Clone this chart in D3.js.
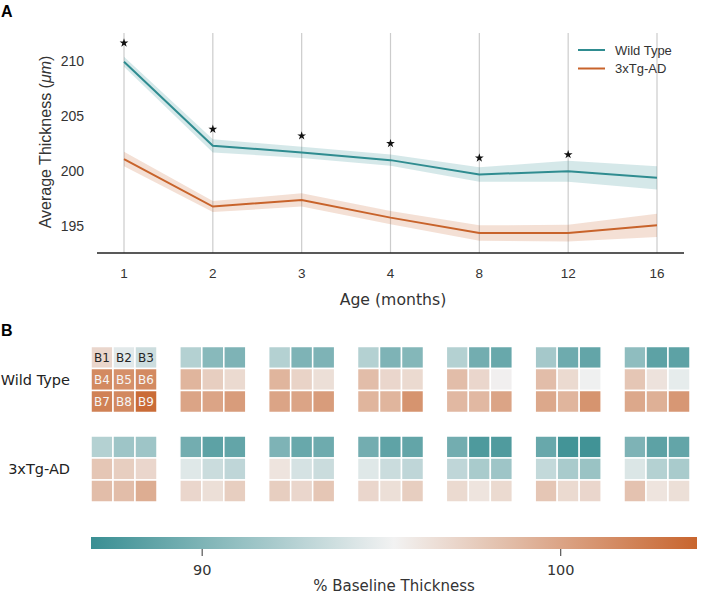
<!DOCTYPE html>
<html>
<head>
<meta charset="utf-8">
<script src="https://cdn.jsdelivr.net/npm/d3@7"></script>
<style>
  body { margin: 0; background: #fff; }
  svg { display: block; }
</style>
</head>
<body>
<div id="chart"></div>
<script>

// DATA
let months = ["1", "2", "3", "4", "8", "12", "16"];

let wtMean = [209.9, 202.3, 201.7, 201.0, 199.7, 200.0, 199.4];
let wtErr  = [0.45, 0.6, 0.5, 0.5, 0.65, 0.95, 1.05];
let tgMean = [201.1, 196.8, 197.4, 195.8, 194.4, 194.4, 195.1];
let tgErr  = [0.65, 0.5, 0.6, 0.6, 0.7, 0.75, 1.05];

// significance stars (month, y value)
let starMonths = ["1", "2", "3", "4", "8", "12"];
let starValues = [211.6, 203.8, 203.2, 202.5, 201.2, 201.5];

let yTicks = [195, 200, 205, 210];

let groups = ["Wild Type", "3xTg-AD"];
let regions = ["B1", "B2", "B3", "B4", "B5", "B6", "B7", "B8", "B9"];

// % baseline thickness, per month, regions B1..B9
let heatWT = [
  [97.0, 94.6, 93.6, 101.6, 101.2, 101.6, 102.1, 101.7, 103.4],
  [92.5, 90.5, 90.0, 99.0, 97.5, 96.8, 100.0, 100.0, 100.5],
  [92.5, 90.0, 90.0, 99.0, 97.2, 96.5, 100.0, 100.0, 100.5],
  [92.5, 90.0, 90.3, 98.5, 97.0, 96.8, 99.0, 99.0, 101.0],
  [92.5, 89.5, 89.0, 98.5, 97.0, 95.5, 98.8, 98.8, 100.0],
  [91.8, 89.3, 88.8, 98.5, 96.8, 95.2, 99.8, 99.0, 101.0],
  [90.8, 88.5, 88.5, 98.0, 96.3, 94.8, 99.8, 99.3, 100.8]
];
let heatTG = [
  [92.5, 91.5, 91.5, 98.0, 97.5, 97.0, 98.5, 98.5, 99.5],
  [89.5, 88.5, 88.8, 94.5, 93.5, 93.0, 97.0, 96.5, 97.5],
  [90.0, 89.0, 89.3, 96.2, 94.0, 93.5, 97.5, 97.0, 98.0],
  [89.5, 88.6, 88.8, 94.5, 93.5, 93.0, 97.0, 96.5, 97.5],
  [89.5, 87.8, 87.9, 93.0, 92.0, 91.5, 96.8, 96.2, 96.8],
  [89.0, 87.3, 87.2, 93.2, 92.0, 91.3, 98.0, 96.8, 97.0],
  [90.0, 88.5, 88.8, 94.3, 92.5, 92.0, 98.2, 96.2, 96.5]
];

let cbarMin = 86.9, cbarMax = 103.8;
let cbarTicks = [90, 100];

// COLOURS
let teal = "#2f8c90", orange = "#c8632b";
let color = d3.scaleLinear()
    .domain([cbarMin, (cbarMin + cbarMax) / 2, cbarMax])
    .range(["#3a8f93", "#f2f2f2", "#c8652e"])
    .interpolate(d3.interpolateRgb);

let svg = d3.select("#chart").append("svg")
    .attr("width", 708)
    .attr("height", 595);

let sansA = "'Liberation Sans', Arial, sans-serif";
let sansD = "'DejaVu Sans', sans-serif";

// PANEL A
let x = d3.scalePoint().domain(months).range([124, 657]);
let y = d3.scaleLinear().domain([192.6, 212.5]).range([253, 33]);

svg.append("text").attr("x", 1).attr("y", 17)
    .attr("font-family", sansA).attr("font-weight", "bold").attr("font-size", 16)
    .text("A");

// vertical grid
svg.selectAll(".grid").data(months).enter().append("line")
    .attr("x1", d => x(d)).attr("x2", d => x(d))
    .attr("y1", y(212.5)).attr("y2", y(192.6))
    .attr("stroke", "#cccccc").attr("stroke-width", 1.2);

// bottom spine
svg.append("line")
    .attr("x1", 97).attr("x2", 684)
    .attr("y1", y(192.6)).attr("y2", y(192.6))
    .attr("stroke", "#222").attr("stroke-width", 1.3);

// y tick labels
svg.selectAll(".ytick").data(yTicks).enter().append("text")
    .attr("x", 84).attr("y", d => y(d)).attr("dy", "0.35em")
    .attr("text-anchor", "end")
    .attr("font-family", sansA).attr("font-size", 14).attr("fill", "#333")
    .text(d => d);

// x tick labels
svg.selectAll(".xtick").data(months).enter().append("text")
    .attr("x", d => x(d)).attr("y", 278)
    .attr("text-anchor", "middle")
    .attr("font-family", sansA).attr("font-size", 13.5).attr("fill", "#333")
    .text(d => d);

svg.append("text").attr("x", 393).attr("y", 305)
    .attr("text-anchor", "middle")
    .attr("font-family", sansD).attr("font-size", 15.7).attr("fill", "#333")
    .text("Age (months)");

let yl = svg.append("text")
    .attr("transform", "translate(51,142) rotate(-90)")
    .attr("text-anchor", "middle")
    .attr("font-family", sansA).attr("font-size", 16).attr("fill", "#333");
yl.append("tspan").text("Average Thickness (");
yl.append("tspan").attr("font-style", "italic").text("μm");
yl.append("tspan").text(")");

let series = [
  {mean: wtMean, err: wtErr, col: teal},
  {mean: tgMean, err: tgErr, col: orange}
];

let area = d3.area()
    .x((d, i) => x(months[i]))
    .y0(d => y(d.m - d.e))
    .y1(d => y(d.m + d.e));
let line = d3.line()
    .x((d, i) => x(months[i]))
    .y(d => y(d.m));

series.forEach(s => {
  let pts = s.mean.map((m, i) => ({m: m, e: s.err[i]}));
  svg.append("path").datum(pts)
      .attr("d", area)
      .attr("fill", s.col).attr("fill-opacity", 0.2);
  svg.append("path").datum(pts)
      .attr("d", line)
      .attr("fill", "none").attr("stroke", s.col).attr("stroke-width", 2);
});

// stars
svg.selectAll(".star").data(starMonths).enter().append("path")
    .attr("d", d3.symbol(d3.symbolStar).size(24))
    .attr("transform", (d, i) => "translate(" + x(d) + "," + y(starValues[i]) + ")")
    .attr("fill", "#111");

// legend
let legend = [{name: "Wild Type", col: teal}, {name: "3xTg-AD", col: orange}];
legend.forEach((l, i) => {
  let ly = 50 + i * 18.5;
  svg.append("line").attr("x1", 578).attr("x2", 605).attr("y1", ly).attr("y2", ly)
      .attr("stroke", l.col).attr("stroke-width", 2);
  svg.append("text").attr("x", 615).attr("y", ly).attr("dy", "0.35em")
      .attr("font-family", sansA).attr("font-size", 13).attr("fill", "#333")
      .text(l.name);
});

// PANEL B
svg.append("text").attr("x", 1).attr("y", 336)
    .attr("font-family", sansA).attr("font-weight", "bold").attr("font-size", 16)
    .text("B");

let gridSize = 66;
let cell = d3.scaleBand().domain([0, 1, 2]).range([0, gridSize]);
let rowTop = [346.5, 436];

groups.forEach((g, gi) => {
  svg.append("text").attr("x", 70).attr("y", rowTop[gi] + 33).attr("dy", "0.35em")
      .attr("text-anchor", "end")
      .attr("font-family", sansD).attr("font-size", 14.5).attr("fill", "#222")
      .text(g);

  let data = gi === 0 ? heatWT : heatTG;
  months.forEach((m, mi) => {
    let gx = x(m) - gridSize / 2;
    let gEl = svg.append("g").attr("transform", "translate(" + gx + "," + rowTop[gi] + ")");
    gEl.selectAll("rect").data(data[mi]).enter().append("rect")
        .attr("x", (d, k) => cell(k % 3))
        .attr("y", (d, k) => cell(Math.floor(k / 3)))
        .attr("width", cell.bandwidth())
        .attr("height", cell.bandwidth())
        .attr("fill", d => color(d))
        .attr("stroke", "#fff").attr("stroke-width", 1.5);
    if (gi === 0 && mi === 0) {
      gEl.selectAll("text").data(data[mi]).enter().append("text")
          .attr("x", (d, k) => cell(k % 3) + cell.bandwidth() / 2)
          .attr("y", (d, k) => cell(Math.floor(k / 3)) + cell.bandwidth() / 2)
          .attr("dy", "0.36em")
          .attr("text-anchor", "middle")
          .attr("font-family", sansD).attr("font-size", 12)
          .attr("fill", d => d > 99.5 ? "#f5f5f5" : "#262626")
          .text((d, k) => regions[k]);
    }
  });
});

// colour bar
let cx = d3.scaleLinear().domain([cbarMin, cbarMax]).range([91, 697]);
let defs = svg.append("defs");
let grad = defs.append("linearGradient").attr("id", "cbar")
    .attr("x1", "0%").attr("x2", "100%").attr("y1", "0%").attr("y2", "0%");
d3.range(0, 1.0001, 0.05).forEach(t => {
  grad.append("stop").attr("offset", (t * 100) + "%")
      .attr("stop-color", color(cbarMin + t * (cbarMax - cbarMin)));
});
svg.append("rect").attr("x", cx(cbarMin)).attr("y", 537)
    .attr("width", cx(cbarMax) - cx(cbarMin)).attr("height", 12)
    .attr("fill", "url(#cbar)");

svg.selectAll(".ctick").data(cbarTicks).enter().append("line")
    .attr("x1", d => cx(d)).attr("x2", d => cx(d))
    .attr("y1", 549).attr("y2", 556)
    .attr("stroke", "#333").attr("stroke-width", 1);
svg.selectAll(".clabel").data(cbarTicks).enter().append("text")
    .attr("x", d => cx(d)).attr("y", 575)
    .attr("text-anchor", "middle")
    .attr("font-family", sansD).attr("font-size", 14.5).attr("fill", "#333")
    .text(d => d);
svg.append("text").attr("x", 394).attr("y", 591)
    .attr("text-anchor", "middle")
    .attr("font-family", sansD).attr("font-size", 15).attr("fill", "#333")
    .text("% Baseline Thickness");

</script>
</body>
</html>
